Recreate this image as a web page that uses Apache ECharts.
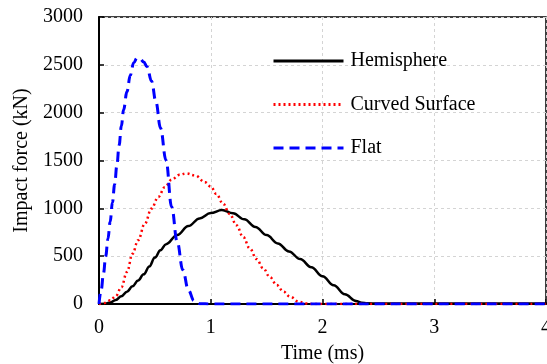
<!DOCTYPE html>
<html>
<head>
<meta charset="utf-8">
<script src="https://cdn.jsdelivr.net/npm/echarts@6/dist/echarts.min.js"></script>
<style>html,body{margin:0;padding:0;background:#fff;}#c{width:547px;height:364px;}</style>
</head>
<body>
<div id="c"></div>
<script>
var seriesNames = ['Hemisphere', 'Curved Surface', 'Flat'];
var xTicks = [0, 1, 2, 3, 4];
var yTicks = [0, 500, 1000, 1500, 2000, 2500, 3000];

var hemisphere = [
  [0,0],[0.05,3],[0.1,15],[0.15,42],[0.2,80],[0.25,128],[0.3,185],[0.35,245],[0.4,310],
  [0.45,392],[0.5,485],[0.55,562],[0.6,625],[0.7,722],[0.8,815],[0.9,895],[1.0,950],
  [1.1,982],[1.2,948],[1.3,885],[1.4,805],[1.5,720],[1.6,633],[1.7,550],[1.8,470],
  [1.9,385],[2.0,290],[2.1,195],[2.2,102],[2.3,32],[2.35,13],[2.4,7],[2.5,5],[3.0,4],[4.0,4]
];
var curved = [
  [0,0],[0.05,10],[0.1,38],[0.15,82],[0.2,175],[0.25,335],[0.3,525],[0.35,667],[0.41,840],
  [0.47,997],[0.53,1118],[0.59,1222],[0.65,1300],[0.72,1350],[0.78,1365],[0.86,1344],
  [0.95,1272],[1.0,1228],[1.05,1150],[1.11,1049],[1.17,940],[1.23,823],[1.29,700],[1.35,580],
  [1.41,470],[1.47,372],[1.53,280],[1.59,198],[1.65,130],[1.71,76],[1.79,22],[1.85,6],[1.9,0],[4.0,0]
];
var flat = [
  [0,0],[0.02,150],[0.04,320],[0.06,500],[0.08,680],[0.1,860],[0.12,1060],[0.14,1250],
  [0.16,1450],[0.18,1660],[0.2,1860],[0.22,2030],[0.25,2220],[0.28,2390],[0.31,2520],
  [0.34,2570],[0.37,2560],[0.4,2530],[0.43,2480],[0.47,2330],[0.51,2110],[0.55,1840],
  [0.6,1500],[0.65,1015],[0.7,650],[0.75,355],[0.8,146],[0.85,35],[0.9,3],[1.0,0],[4.0,0]
];

var font = 'Liberation Serif, Times New Roman, serif';
var chart = echarts.init(document.getElementById('c'), null, {renderer: 'canvas'});
chart.setOption({
  animation: false,
  backgroundColor: '#fff',
  textStyle: {fontFamily: font},
  grid: {left: 99, right: 1, top: 17, bottom: 60, show: true, borderColor: '#000', borderWidth: 1.5,
         backgroundColor: 'transparent', containLabel: false, outerBoundsMode: 'none'},
  legend: {
    orient: 'vertical', left: 272, top: 51, padding: 0, itemWidth: 70, itemHeight: 20, itemGap: 23.5,
    itemStyle: {opacity: 0},
    lineStyle: {width: 3},
    textStyle: {fontFamily: font, fontSize: 20, color: '#000', lineHeight: 20, padding: [0, 0, 0, 2]},
    data: seriesNames
  },
  xAxis: {
    type: 'value', min: xTicks[0], max: xTicks[xTicks.length - 1], interval: 1,
    name: 'Time (ms)', nameLocation: 'middle', nameGap: 40,
    nameTextStyle: {fontFamily: font, fontSize: 20, color: '#000'},
    axisLine: {show: true, onZero: false, lineStyle: {color: '#000', width: 2}},
    axisTick: {show: true, inside: true, length: 5, lineStyle: {color: '#000', width: 1.5}},
    axisLabel: {fontFamily: font, fontSize: 20, color: '#000', margin: 14, formatter: function (v) { return String(v); }},
    splitLine: {show: true, lineStyle: {color: '#d4d4d4', type: [3, 3], width: 1}}
  },
  yAxis: {
    type: 'value', min: yTicks[0], max: yTicks[yTicks.length - 1], interval: 500,
    name: 'Impact force (kN)', nameLocation: 'middle', nameGap: 62, nameRotate: 90,
    nameTextStyle: {fontFamily: font, fontSize: 20, color: '#000'},
    axisLine: {show: true, lineStyle: {color: '#000', width: 2}},
    axisTick: {show: true, inside: true, length: 5, lineStyle: {color: '#000', width: 1.5}},
    axisLabel: {fontFamily: font, fontSize: 20, color: '#000', margin: 16, formatter: function (v) { return String(v); }},
    splitLine: {show: true, lineStyle: {color: '#d4d4d4', type: [3, 3], width: 1}}
  },
  series: [
    {name: seriesNames[0], type: 'line', data: hemisphere, symbol: 'none', smooth: 0.4, smoothMonotone: 'x',
     lineStyle: {color: '#000', width: 2.5}, itemStyle: {color: '#000'}},
    {name: seriesNames[1], type: 'line', data: curved, symbol: 'none', smooth: 0.4, smoothMonotone: 'x',
     lineStyle: {color: '#ff0000', width: 2.5, type: [2, 3]}, itemStyle: {color: '#ff0000'}},
    {name: seriesNames[2], type: 'line', data: flat, symbol: 'none', smooth: 0.4, smoothMonotone: 'x',
     lineStyle: {color: '#0000ff', width: 3, type: [10, 6]}, itemStyle: {color: '#0000ff'}}
  ]
});
</script>
</body>
</html>
